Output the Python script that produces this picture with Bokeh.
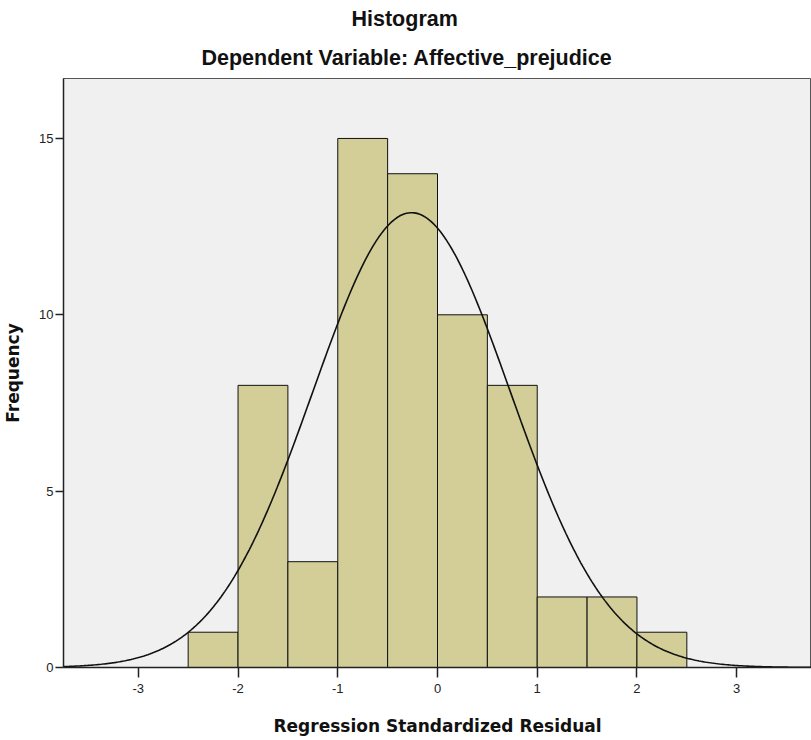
import numpy as np
from bokeh.plotting import figure
from bokeh.models import Title, FixedTicker, Range1d, PrintfTickFormatter
from bokeh.embed import file_html
from bokeh.resources import INLINE

# Data
bin_left = [-2.5, -2.0, -1.5, -1.0, -0.5, 0.0, 0.5, 1.0, 1.5, 2.0]
bin_right = [-2.0, -1.5, -1.0, -0.5, 0.0, 0.5, 1.0, 1.5, 2.0, 2.5]
counts = [1, 8, 3, 15, 14, 10, 8, 2, 2, 1]
x_ticks = [-3, -2, -1, 0, 1, 2, 3]
y_ticks = [0, 5, 10, 15]
fit_mean = -0.26
fit_std = 0.99

n_total = sum(counts)
bin_width = bin_right[0] - bin_left[0]

p = figure(width=811, height=740, output_backend="svg", toolbar_location=None,
           x_range=Range1d(-3.75, 3.75), y_range=Range1d(0, 16.7),
           min_border_left=63, min_border_right=0, min_border_top=78,
           min_border_bottom=73)

p.background_fill_color = "#F0F0F0"
p.border_fill_color = "white"
p.outline_line_color = "#555555"
p.outline_line_width = 1
p.xgrid.visible = False
p.ygrid.visible = False

p.quad(left=bin_left, right=bin_right, bottom=0, top=counts,
       fill_color="#D3CE97", line_color="#111111", line_width=1)

xs = np.linspace(-3.75, 3.75, 400)
ys = n_total * bin_width / (fit_std * np.sqrt(2 * np.pi)) * np.exp(-0.5 * ((xs - fit_mean) / fit_std) ** 2)
p.line(xs, ys, line_color="#111111", line_width=1.6)

for ax in (p.xaxis[0], p.yaxis[0]):
    ax.axis_line_color = "#222222"
    ax.axis_line_width = 1.5
    ax.major_tick_line_color = "#222222"
    ax.major_tick_line_width = 1.5
    ax.major_tick_in = 0
    ax.minor_tick_line_color = None
    ax.major_label_text_font = "Liberation Sans"
    ax.major_label_text_font_size = "13px"
    ax.major_label_text_color = "#222222"
    ax.axis_label_text_font = "DejaVu Sans"
    ax.axis_label_text_font_style = "bold"
    ax.axis_label_text_font_size = "17px"
    ax.axis_label_text_color = "#111111"
    ax.formatter = PrintfTickFormatter(format="%d")

p.xaxis.ticker = FixedTicker(ticks=x_ticks)
p.yaxis.ticker = FixedTicker(ticks=y_ticks)
p.xaxis.axis_label = "Regression Standardized Residual"
p.yaxis.axis_label = "Frequency"
p.xaxis.major_tick_out = 10
p.yaxis.major_tick_out = 8
p.xaxis.major_label_standoff = 6
p.xaxis.axis_label_standoff = 20
p.yaxis.major_label_standoff = 2
p.yaxis.axis_label_standoff = 13

sub = Title(text="Dependent Variable: Affective_prejudice", align="left",
            offset=138, text_font="Liberation Sans", text_font_size="21.5px",
            text_font_style="bold", text_color="#111111", standoff=17)
main = Title(text="Histogram", align="left", offset=288,
             text_font="Liberation Sans", text_font_size="21.5px",
             text_font_style="bold", text_color="#111111", standoff=9)
p.add_layout(sub, "above")
p.add_layout(main, "above")

open("out.html", "w").write(file_html(p, INLINE))
